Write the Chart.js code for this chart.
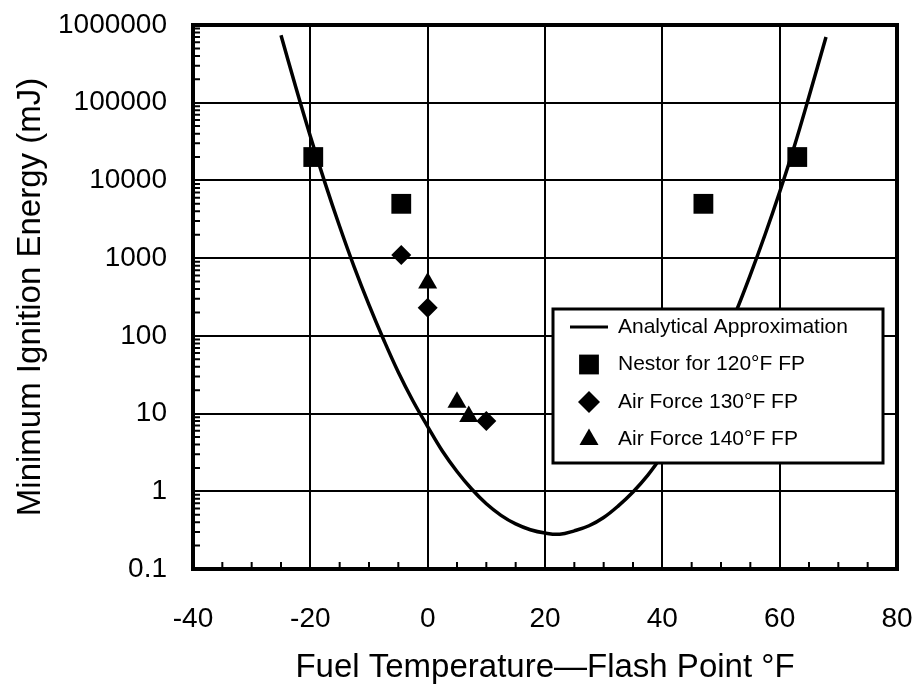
<!DOCTYPE html>
<html>
<head>
<meta charset="utf-8">
<script src="https://cdn.jsdelivr.net/npm/chart.js@4.4.1/dist/chart.umd.min.js"></script>
<style>
    html, body { margin: 0; padding: 0; background: #fff; }
</style>
</head>
<body>
<canvas id="mie" width="918" height="688"></canvas>
<script>
// axis ticks
const xTicks = [-40, -20, 0, 20, 40, 60, 80]
const yTicks = [0.1, 1, 10, 100, 1000, 10000, 100000, 1000000]
const yTickLabels = ['0.1', '1', '10', '100', '1000', '10000', '100000', '1000000']

// analytical approximation
const curveX = [-25, -22.5, -20, -17.5, -15, -12.5, -10, -7.5, -5, -2.5, 0, 2.5, 5, 7.5, 10, 12.5, 15, 17.5, 20, 22.5, 25, 27.5, 30, 32.5, 35, 37.5, 40, 42.5, 45, 47.5, 50, 52.5, 55, 57.5, 60, 62.5, 65, 67.9]
const curveY = [740000, 160000, 37000, 9300, 2550, 760, 250, 89, 34, 14.5, 6.8, 3.3, 1.8, 1.07, 0.69, 0.49, 0.38, 0.32, 0.29, 0.28, 0.31, 0.36, 0.46, 0.65, 0.98, 1.6, 2.9, 5.7, 12.3, 29, 73, 200, 610, 2000, 7100, 27500, 120000, 700000]

// measured points
const nestorX = [-19.5, -4.5, 47, 63]
const nestorY = [20000, 5000, 5000, 20000]
const af130X = [-4.5, 0, 10]
const af130Y = [1100, 230, 8]
const af140X = [0, 5, 7]
const af140Y = [480, 14, 9.2]

const labels = [
    'Analytical Approximation',
    'Nestor for 120°F FP',
    'Air Force 130°F FP',
    'Air Force 140°F FP',
]

const FONT = "'Liberation Sans', Arial, Helvetica, sans-serif"
const pts = (xs, ys) => xs.map((x, i) => ({ x: x, y: ys[i] }))

// keep the plot box where the picture has it
const noPad = (s) => {
    s.paddingTop = 0
    s.paddingBottom = 0
    s.paddingLeft = 0
    s.paddingRight = 0
}

// frame + inward minor ticks
const frameTicks = {
    id: 'frameTicks',
    afterDatasetsDraw(chart) {
        const { ctx, chartArea: a, scales } = chart
        ctx.save()
        ctx.strokeStyle = '#000'
        ctx.lineWidth = 2
        ctx.beginPath()
        for (let v = -35; v < 80; v += 5) {
            if (v % 20 === 0) continue
            const px = scales.x.getPixelForValue(v)
            ctx.moveTo(px, a.bottom)
            ctx.lineTo(px, a.bottom - 7)
        }
        for (let d = 0.1; d < 1000000; d *= 10) {
            for (let m = 2; m < 10; m++) {
                const py = scales.y.getPixelForValue(m * d)
                ctx.moveTo(a.left, py)
                ctx.lineTo(a.left + 7, py)
            }
        }
        ctx.stroke()
        ctx.lineWidth = 4
        ctx.strokeRect(a.left, a.top, a.right - a.left, a.bottom - a.top)
        ctx.restore()
    },
}

// boxed legend inside the plot
const boxLegend = {
    id: 'boxLegend',
    afterDraw(chart) {
        const { ctx, chartArea: a } = chart
        const bx = a.left + 360
        const by = a.top + 284
        const bw = 330
        const bh = 154
        ctx.save()
        ctx.fillStyle = '#fff'
        ctx.fillRect(bx, by, bw, bh)
        ctx.strokeStyle = '#000'
        ctx.lineWidth = 3
        ctx.strokeRect(bx, by, bw, bh)
        ctx.fillStyle = '#000'
        ctx.font = '21px ' + FONT
        ctx.textBaseline = 'middle'
        chart.data.datasets.forEach((ds, i) => {
            const cy = by + 18 + i * 37.5
            const mx = bx + 36
            if (ds.showLine) {
                ctx.lineWidth = 3
                ctx.beginPath()
                ctx.moveTo(bx + 17, cy)
                ctx.lineTo(bx + 55, cy)
                ctx.stroke()
            } else {
                Chart.helpers.drawPoint(ctx, { pointStyle: ds.pointStyle, rotation: 0, radius: ds.pointStyle === 'rect' ? 14 : 11, borderWidth: 0 }, mx, cy)
            }
            ctx.fillText(ds.label, bx + 65, cy)
        })
        ctx.restore()
    },
}

new Chart(document.getElementById('mie'), {
    type: 'scatter',
    data: {
        datasets: [
            {
                label: labels[0],
                data: pts(curveX, curveY),
                showLine: true,
                borderColor: '#000',
                borderWidth: 3.5,
                pointRadius: 0,
                tension: 0.4,
            },
            {
                label: labels[1],
                data: pts(nestorX, nestorY),
                pointStyle: 'rect',
                pointRadius: 14,
                backgroundColor: '#000',
                borderWidth: 0,
            },
            {
                label: labels[2],
                data: pts(af130X, af130Y),
                pointStyle: 'rectRot',
                pointRadius: 10,
                backgroundColor: '#000',
                borderWidth: 0,
            },
            {
                label: labels[3],
                data: pts(af140X, af140Y),
                pointStyle: 'triangle',
                pointRadius: 11,
                backgroundColor: '#000',
                borderWidth: 0,
            },
        ],
    },
    options: {
        responsive: false,
        animation: false,
        devicePixelRatio: 1,
        layout: {
            padding: { left: 0, top: 25, right: 21, bottom: 0 },
        },
        plugins: {
            legend: { display: false },
            tooltip: { enabled: false },
        },
        scales: {
            x: {
                type: 'linear',
                min: -40,
                max: 80,
                afterBuildTicks: (s) => { s.ticks = xTicks.map((v) => ({ value: v })) },
                afterFit: (s) => { s.height = 119; noPad(s) },
                ticks: {
                    color: '#000',
                    font: { family: FONT, size: 28 },
                    padding: 33,
                    maxRotation: 0,
                },
                grid: { color: '#000', lineWidth: 2, drawTicks: false },
                border: { display: false },
                title: {
                    display: true,
                    text: 'Fuel Temperature—Flash Point °F',
                    color: '#000',
                    font: { family: FONT, size: 33 },
                    padding: { top: 3, bottom: 0 },
                },
            },
            y: {
                type: 'logarithmic',
                min: 0.1,
                max: 1000000,
                afterBuildTicks: (s) => { s.ticks = yTicks.map((v) => ({ value: v })) },
                afterFit: (s) => { s.width = 193; noPad(s) },
                ticks: {
                    color: '#000',
                    font: { family: FONT, size: 28 },
                    padding: 26,
                    callback: (v) => yTickLabels[yTicks.indexOf(v)] ?? '',
                },
                grid: { color: '#000', lineWidth: 2, drawTicks: false },
                border: { display: false },
                title: {
                    display: true,
                    text: 'Minimum Ignition Energy (mJ)',
                    color: '#000',
                    font: { family: FONT, size: 33 },
                    padding: { top: 11, bottom: 0 },
                },
            },
        },
    },
    plugins: [frameTicks, boxLegend],
})
</script>
</body>
</html>
